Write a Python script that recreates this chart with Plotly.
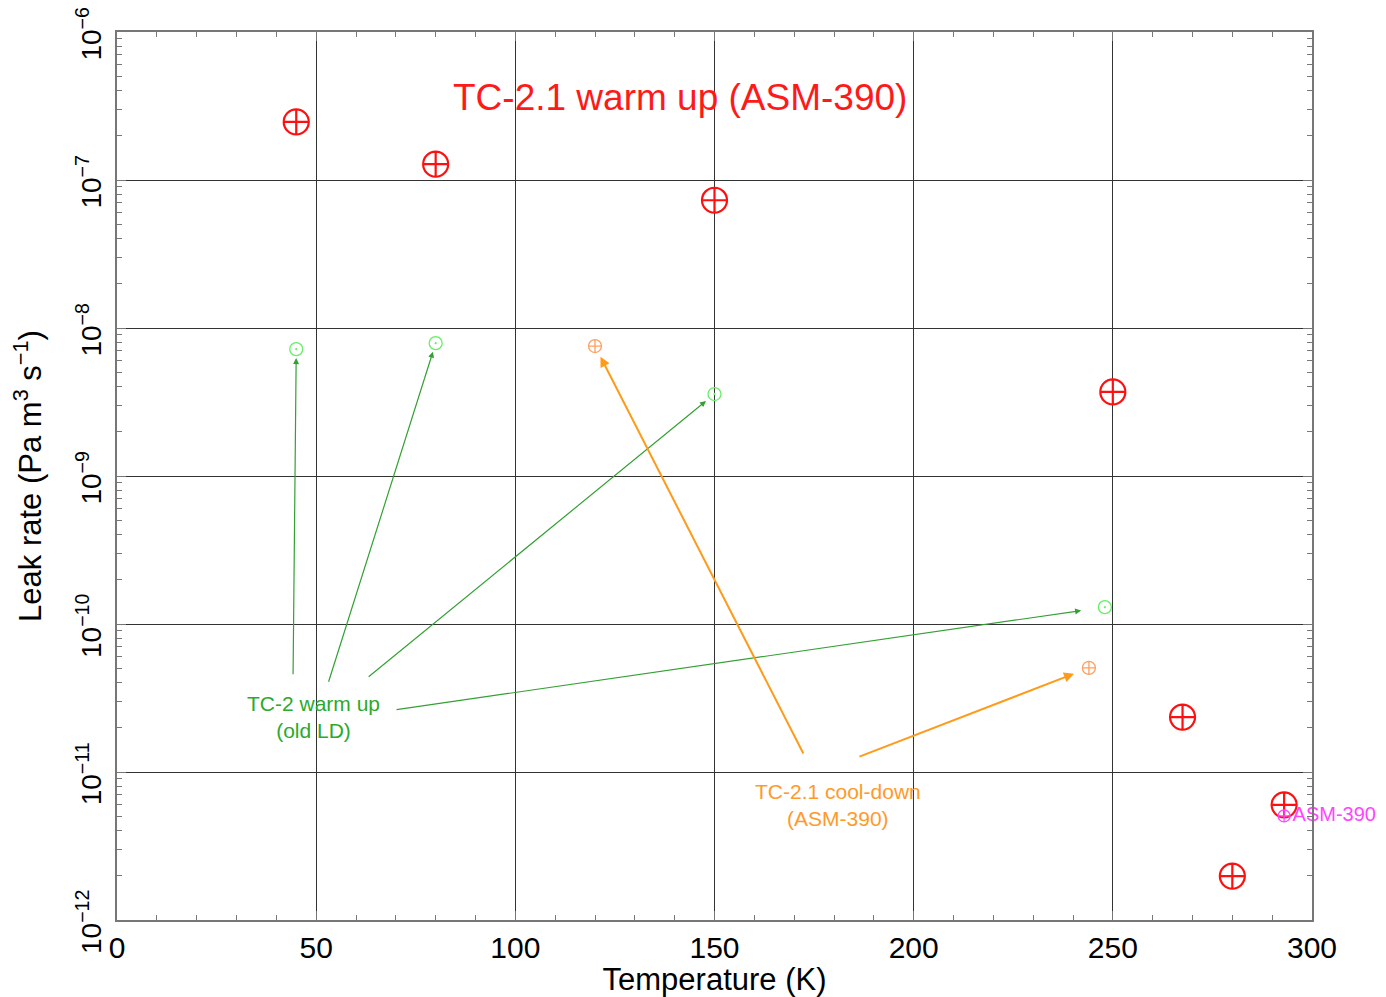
import plotly.graph_objects as go
import math

# Data
warm_T = [45, 80, 150, 250, 267.5, 293, 280]
warm_L = [2.47e-7, 1.28e-7, 7.3e-8, 3.7e-9, 2.35e-11, 6.0e-12, 1.98e-12]

old_T = [45, 80, 150, 248]
old_L = [7.2e-9, 7.9e-9, 3.58e-9, 1.3e-10]

cool_T = [120, 244]
cool_L = [7.55e-9, 5.05e-11]

asm_T = [293]
asm_L = [5.05e-12]

x_ticks = [0, 50, 100, 150, 200, 250, 300]
y_ticks = [1e-12, 1e-11, 1e-10, 1e-9, 1e-8, 1e-7, 1e-6]
y_ticktext = ["10<sup>\u221212</sup>", "10<sup>\u221211</sup>", "10<sup>\u221210</sup>",
              "10<sup>\u22129</sup>", "10<sup>\u22128</sup>", "10<sup>\u22127</sup>",
              "10<sup>\u22126</sup>"]

# annotation arrow tails (T, log10 L)
green_tails = [(44.2, -10.35), (53.0, -10.40), (62.8, -10.365), (69.8, -10.58)]
green_heads = [0, 1, 2, 3]
green_standoff = [9, 9, 11, 24]
orange_tails = [(172.5, -10.885), (186.0, -10.90)]
orange_heads = [0, 1]
orange_standoff = [12, 16]

fig = go.Figure()
fig.add_trace(go.Scatter(x=warm_T, y=warm_L, mode="markers",
                         marker=dict(symbol="circle-cross-open", size=25, color="#ff1010",
                                     line=dict(width=2.2, color="#ff1010")),
                         showlegend=False, cliponaxis=False))
fig.add_trace(go.Scatter(x=old_T, y=old_L, mode="markers",
                         marker=dict(symbol="circle-open-dot", size=13, color="#66ee66",
                                     line=dict(width=1.3, color="#66ee66")),
                         showlegend=False))
fig.add_trace(go.Scatter(x=cool_T, y=cool_L, mode="markers",
                         marker=dict(symbol="circle-cross-open", size=13, color="#ffa060",
                                     line=dict(width=1.3, color="#ffa060")),
                         showlegend=False))
fig.add_trace(go.Scatter(x=asm_T, y=asm_L, mode="markers+text", text=["ASM-390"],
                         textposition="middle right",
                         textfont=dict(size=20, color="#ff44ff", family="Liberation Sans"),
                         marker=dict(symbol="circle-cross-open", size=12, color="#ff44ff",
                                     line=dict(width=1.3, color="#ff44ff")),
                         showlegend=False, cliponaxis=False))

annotations = []
for (tx, ty), idx, so in zip(green_tails, green_heads, green_standoff):
    annotations.append(dict(x=old_T[idx], y=math.log10(old_L[idx]), ax=tx, ay=ty,
                            xref="x", yref="y", axref="x", ayref="y",
                            showarrow=True, arrowhead=2, arrowsize=1, arrowwidth=1.2,
                            arrowcolor="#33a033", standoff=so, text=""))
for (tx, ty), idx, so in zip(orange_tails, orange_heads, orange_standoff):
    annotations.append(dict(x=cool_T[idx], y=math.log10(cool_L[idx]), ax=tx, ay=ty,
                            xref="x", yref="y", axref="x", ayref="y",
                            showarrow=True, arrowhead=2, arrowsize=1, arrowwidth=2,
                            arrowcolor="#ff9a1a", standoff=so, text=""))
annotations.append(dict(x=49.3, y=-10.59, xref="x", yref="y", showarrow=False,
                        yanchor="middle", yshift=-6,
                        text="TC-2 warm up<br>(old LD)",
                        font=dict(size=21, color="#2aaa2a", family="Liberation Sans")))
annotations.append(dict(x=181.0, y=-11.18, xref="x", yref="y", showarrow=False,
                        yanchor="middle", yshift=-6,
                        text="TC-2.1 cool-down<br>(ASM-390)",
                        font=dict(size=21, color="#ff9a2a", family="Liberation Sans")))
annotations.append(dict(x=0.471, y=0.926, xref="paper", yref="paper", showarrow=False,
                        xanchor="center", yanchor="middle",
                        text="TC-2.1 warm up (ASM-390)",
                        font=dict(size=37, color="#ff1a1a", family="Liberation Sans")))

fig.update_layout(
    width=1378, height=989,
    margin=dict(l=109, r=74, t=24, b=77, autoexpand=False),
    paper_bgcolor="white", plot_bgcolor="white",
    font=dict(family="Liberation Sans", color="black"),
    annotations=annotations,
    xaxis=dict(range=[0, 300], tickvals=x_ticks, ticks="inside", ticklen=9,
               tickcolor="#777", showline=True, linecolor="#777", linewidth=1.5,
               mirror="ticks", showgrid=True, gridcolor="#333", gridwidth=1,
               zeroline=False, tickfont=dict(size=30), automargin=False,
               minor=dict(dtick=10, ticks="inside", ticklen=5, tickcolor="#777", showgrid=False),
               title=dict(text="Temperature (K)", font=dict(size=31), standoff=4)),
    yaxis=dict(type="log", range=[-12, -6], tickvals=y_ticks, ticktext=y_ticktext,
               ticks="inside", ticklen=9, tickcolor="#777", showline=True,
               linecolor="#777", linewidth=1.5, mirror="ticks", showgrid=True,
               gridcolor="#333", gridwidth=1, zeroline=False, tickangle=-90,
               tickfont=dict(size=28), ticklabeloverflow="allow", automargin=False,
               ticklabelshift=6, ticklabelstandoff=3,
               minor=dict(dtick="D1", ticks="inside", ticklen=5, tickcolor="#777", showgrid=False),
               title=dict(text="Leak rate (Pa m<sup>3</sup> s<sup>\u22121</sup>)",
                          font=dict(size=31), standoff=22)),
)
fig.write_html("out.html")
